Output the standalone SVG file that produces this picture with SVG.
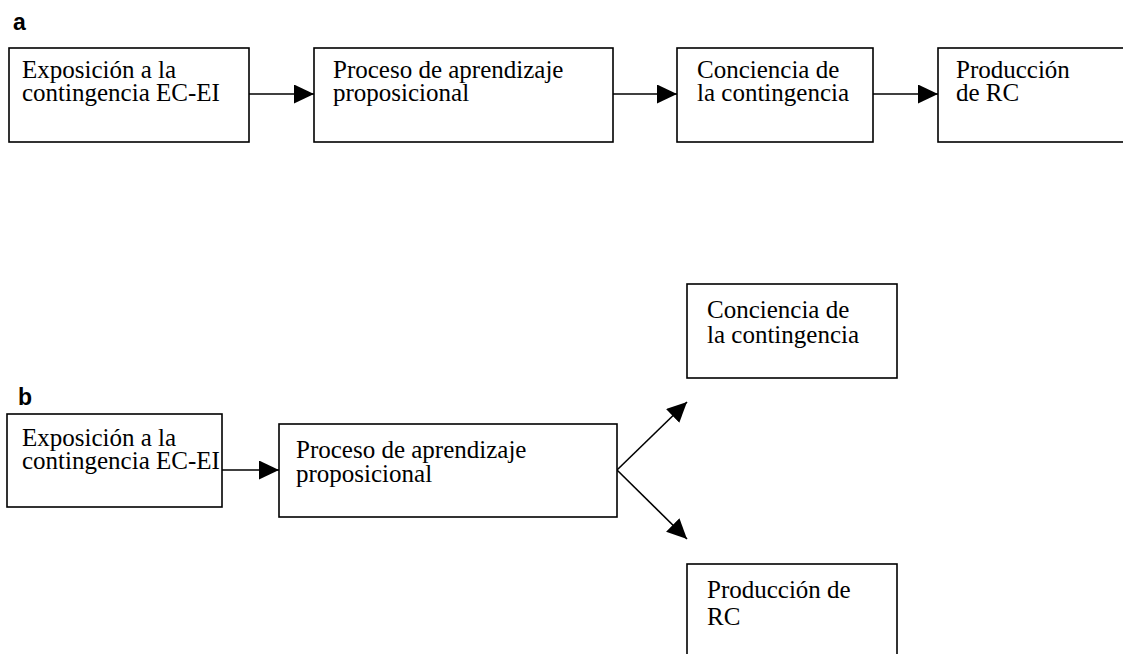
<svg xmlns="http://www.w3.org/2000/svg" width="1123" height="654" viewBox="0 0 1123 654">
<style>
.box{fill:#fff;stroke:#000;stroke-width:1.6}
.t{font-family:"Liberation Serif","Times New Roman",serif;font-size:25px;fill:#000}
.lbl{font-family:"Liberation Sans",Arial,sans-serif;font-size:23px;font-weight:bold;fill:#000}
.c{stroke:#000;stroke-width:1.6;fill:none;marker-end:url(#ah)}
</style>
<defs>
<marker id="ah" markerUnits="userSpaceOnUse" markerWidth="21" markerHeight="20" refX="20" refY="9.5" orient="auto">
<path d="M0,0 L20,9.5 L0,19 z" fill="#000"/>
</marker>
</defs>
<rect width="1123" height="654" fill="#fff"/>
<text class="lbl" x="13" y="30">a</text>
<text class="lbl" x="18" y="405">b</text>
<g id="connectors">
<line class="c" x1="249" y1="94" x2="314" y2="94"/>
<line class="c" x1="613" y1="94" x2="677" y2="94"/>
<line class="c" x1="873" y1="94" x2="938" y2="94"/>
<line class="c" x1="222" y1="470" x2="279" y2="470"/>
<line class="c" x1="617" y1="470" x2="687" y2="402"/>
<line class="c" x1="617" y1="470" x2="687" y2="539"/>
</g>
<g id="a1">
<rect class="box" x="9" y="48" width="240" height="94"/>
<text class="t" x="22" y="78">Exposición a la<tspan x="22" y="101">contingencia EC-EI</tspan></text>
</g>
<g id="a2">
<rect class="box" x="314" y="48" width="299" height="94"/>
<text class="t" x="333" y="78">Proceso de aprendizaje<tspan x="333" y="101">proposicional</tspan></text>
</g>
<g id="a3">
<rect class="box" x="677" y="48" width="196" height="94"/>
<text class="t" x="697" y="78">Conciencia de<tspan x="697" y="101">la contingencia</tspan></text>
</g>
<g id="a4">
<rect class="box" x="938" y="48" width="200" height="94"/>
<text class="t" x="956" y="78">Producción<tspan x="956" y="101">de RC</tspan></text>
</g>
<g id="b1">
<rect class="box" x="7" y="414" width="215" height="93"/>
<text class="t" x="22" y="446">Exposición a la<tspan x="22" y="469">contingencia EC-EI</tspan></text>
</g>
<g id="b2">
<rect class="box" x="279" y="424" width="338" height="93"/>
<text class="t" x="296" y="458">Proceso de aprendizaje<tspan x="296" y="482">proposicional</tspan></text>
</g>
<g id="b3">
<rect class="box" x="687" y="284" width="210" height="94"/>
<text class="t" x="707" y="318">Conciencia de<tspan x="707" y="343">la contingencia</tspan></text>
</g>
<g id="b4">
<rect class="box" x="687" y="564" width="210" height="100"/>
<text class="t" x="707" y="598">Producción de<tspan x="707" y="625">RC</tspan></text>
</g>
</svg>
